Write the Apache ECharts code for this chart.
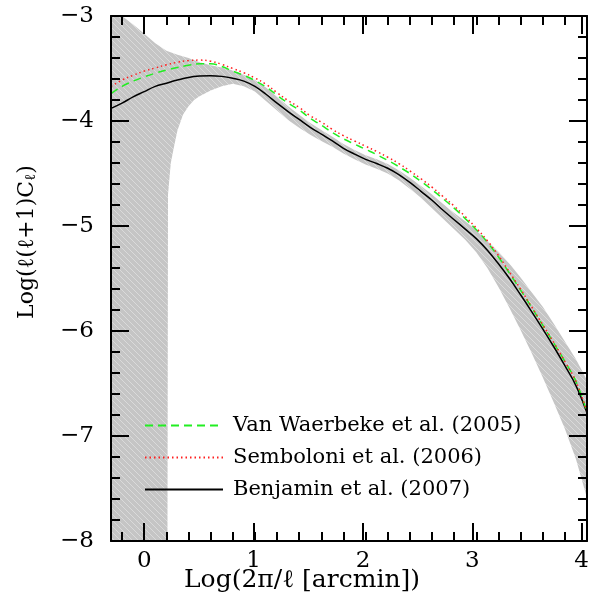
<!DOCTYPE html>
<html><head><meta charset="utf-8">
<script src="https://cdn.jsdelivr.net/npm/echarts@6/dist/echarts.min.js"></script>
<style>html,body{margin:0;padding:0;background:#fff}#c{width:592px;height:616px}</style>
</head><body><div id="c"></div>
<script>
// ---- data ----
const xVals = [-0.3,-0.2,-0.1,0.0,0.1,0.2,0.3,0.4,0.5,0.6,0.7,0.8,0.9,1.0,1.1,1.2,1.3,1.4,1.5,1.6,1.7,1.8,1.9,2.0,2.1,2.2,2.3,2.4,2.5,2.6,2.7,2.8,2.9,3.0,3.1,3.2,3.3,3.4,3.5,3.6,3.7,3.8,3.9,4.0];
const benjamin = [-3.88,-3.83,-3.77,-3.72,-3.67,-3.64,-3.61,-3.585,-3.572,-3.568,-3.575,-3.593,-3.62,-3.67,-3.745,-3.83,-3.91,-3.985,-4.06,-4.125,-4.19,-4.26,-4.315,-4.365,-4.405,-4.45,-4.51,-4.585,-4.67,-4.755,-4.85,-4.94,-5.03,-5.12,-5.23,-5.36,-5.50,-5.655,-5.815,-5.98,-6.15,-6.33,-6.52,-6.78];
const semboloni = [-3.67,-3.61,-3.565,-3.525,-3.495,-3.465,-3.44,-3.425,-3.42,-3.43,-3.46,-3.50,-3.54,-3.59,-3.65,-3.73,-3.805,-3.87,-3.95,-4.01,-4.08,-4.14,-4.19,-4.24,-4.29,-4.345,-4.405,-4.475,-4.55,-4.63,-4.72,-4.81,-4.91,-5.02,-5.14,-5.28,-5.44,-5.60,-5.77,-5.94,-6.11,-6.29,-6.48,-6.77];
const vanWaerbeke = [-3.74,-3.67,-3.62,-3.58,-3.545,-3.515,-3.49,-3.47,-3.455,-3.455,-3.48,-3.525,-3.565,-3.615,-3.675,-3.755,-3.83,-3.895,-3.975,-4.04,-4.11,-4.17,-4.22,-4.27,-4.32,-4.375,-4.435,-4.50,-4.575,-4.655,-4.74,-4.83,-4.93,-5.035,-5.155,-5.295,-5.45,-5.61,-5.775,-5.945,-6.115,-6.29,-6.48,-6.77];
const bandUpperX = xVals;
const bandUpper = [-3.0,-3.0,-3.08,-3.17,-3.26,-3.33,-3.37,-3.40,-3.44,-3.47,-3.49,-3.52,-3.56,-3.61,-3.68,-3.77,-3.86,-3.94,-4.02,-4.085,-4.15,-4.22,-4.275,-4.325,-4.365,-4.41,-4.47,-4.54,-4.62,-4.70,-4.79,-4.875,-4.955,-5.04,-5.14,-5.245,-5.36,-5.49,-5.63,-5.77,-5.93,-6.10,-6.27,-6.47];
const bandLowerX = [-0.3,0.21,0.215,0.24,0.27,0.3,0.35,0.4,0.45,0.5,0.6,0.7,0.8,0.9,1.0,1.1,1.2,1.3,1.4,1.5,1.6,1.7,1.8,1.9,2.0,2.1,2.2,2.3,2.4,2.5,2.6,2.7,2.8,2.9,3.0,3.1,3.2,3.3,3.4,3.5,3.6,3.7,3.8,3.9,4.0];
const bandLower = [-8,-8,-4.7,-4.4,-4.24,-4.09,-3.94,-3.86,-3.80,-3.765,-3.71,-3.67,-3.645,-3.67,-3.72,-3.81,-3.90,-3.99,-4.065,-4.13,-4.19,-4.245,-4.31,-4.365,-4.415,-4.455,-4.50,-4.565,-4.645,-4.73,-4.83,-4.93,-5.03,-5.13,-5.25,-5.40,-5.58,-5.78,-5.99,-6.21,-6.44,-6.68,-6.93,-7.22,-7.59];
const legendNames = ['Van Waerbeke et al. (2005)','Semboloni et al. (2006)','Benjamin et al. (2007)'];
const xTickLabels = ['0','1','2','3','4'];

// ---- chart ----
const pair = (xs, ys) => xs.map((x, i) => [x, ys[i]]);
const pc = document.createElement('canvas'); pc.width = 6; pc.height = 6;
const g = pc.getContext('2d');
g.fillStyle = '#c5c5c5'; g.fillRect(0, 0, 6, 6);
g.strokeStyle = '#dadada'; g.lineWidth = 1;
g.beginPath(); g.moveTo(-1, -1); g.lineTo(7, 7); g.moveTo(-4, 2); g.lineTo(4, 10); g.moveTo(2, -4); g.lineTo(10, 4); g.stroke();

const L = 111, R = 5, T = 16, B = 75, W = 592 - L - R, span = 4.3;
const FONT = 'DejaVu Serif';
const axisBlack = { color: '#000', width: 2 };
const mainX = (pos) => ({ type: 'value', gridIndex: 0, position: pos, min: -0.3, max: 4, z: 10,
  axisLine: { show: true, onZero: false, lineStyle: axisBlack }, axisTick: { show: false }, axisLabel: { show: false }, splitLine: { show: false } });
const majX = (pos, lab) => ({ type: 'value', gridIndex: 1, position: pos, min: 0, max: 4, interval: 1, z: 10,
  axisLine: { show: false, onZero: false }, axisTick: { show: true, inside: true, length: 18, lineStyle: axisBlack },
  axisLabel: { show: lab, margin: 9, color: '#000', fontFamily: FONT, fontSize: 23, formatter: v => xTickLabels[Math.round(v)] }, splitLine: { show: false } });
const minX = (pos) => ({ type: 'value', gridIndex: 2, position: pos, min: -0.2, max: 4, interval: 0.2, z: 10,
  axisLine: { show: false, onZero: false }, axisTick: { show: true, inside: true, length: 9, lineStyle: axisBlack },
  axisLabel: { show: false }, splitLine: { show: false } });
const mainY = (pos, lab) => ({ type: 'value', gridIndex: 0, position: pos, min: -8, max: -3, interval: 1, z: 10,
  axisLine: { show: true, onZero: false, lineStyle: axisBlack },
  axisTick: { show: true, inside: true, length: 18, lineStyle: axisBlack },
  minorTick: { show: true, splitNumber: 5, length: 9, lineStyle: axisBlack },
  axisLabel: { show: lab, margin: 17, color: '#000', fontFamily: FONT, fontSize: 23, formatter: v => (v < 0 ? '\u2212' : '') + Math.abs(v) },
  splitLine: { show: false }, minorSplitLine: { show: false } });
const hidY = (gi) => ({ type: 'value', gridIndex: gi, show: false, min: -8, max: -3 });

const chart = echarts.init(document.getElementById('c'), null, { renderer: 'canvas' });
chart.setOption({
  animation: false,
  backgroundColor: '#fff',
  grid: [
    { left: L, right: R, top: T, bottom: B },
    { left: L + 0.3 * W / span, right: R, top: T, bottom: B },
    { left: L + 0.1 * W / span, right: R, top: T, bottom: B }
  ],
  xAxis: [mainX('bottom'), mainX('top'), majX('bottom', true), majX('top', false), minX('bottom'), minX('top')],
  yAxis: [mainY('left', true), mainY('right', false), hidY(1), hidY(2)],
  legend: {
    data: legendNames, orient: 'vertical', left: 144, top: 415, padding: 0, itemWidth: 78, itemHeight: 14, itemGap: 11,
    selectedMode: false, itemStyle: { opacity: 0 },
    textStyle: { fontFamily: FONT, fontSize: 21, color: '#000', padding: [0, 0, 0, 5] }
  },
  graphic: [
    { type: 'text', x: 302, y: 580, style: { text: 'Log(2\u03c0/\u2113 [arcmin])', font: '25px "DejaVu Serif"', fill: '#000', align: 'center', verticalAlign: 'middle' } },
    { type: 'text', x: 27, y: 242, rotation: Math.PI / 2,
      style: { text: 'Log(\u2113(\u2113+1)C{s|\u2113})', font: '22px "DejaVu Serif"', fill: '#000', align: 'center', verticalAlign: 'middle',
        rich: { s: { fontFamily: FONT, fontSize: 15, verticalAlign: 'bottom', padding: [8, 0, 0, 0] } } } }
  ],
  series: [
    { type: 'custom', xAxisIndex: 0, yAxisIndex: 0, z: 1, silent: true, data: [[0, -5]],
      renderItem: (params, api) => {
        const pts = bandUpperX.map((x, i) => api.coord([x, bandUpper[i]]));
        for (let i = bandLowerX.length - 1; i >= 0; i--) pts.push(api.coord([bandLowerX[i], bandLower[i]]));
        return { type: 'polygon', shape: { points: pts }, style: { fill: { image: pc, repeat: 'repeat' }, stroke: null } };
      } },
    { name: legendNames[2], type: 'line', xAxisIndex: 0, yAxisIndex: 0, data: pair(xVals, benjamin), smooth: 0.4, symbol: 'none', z: 3,
      lineStyle: { color: '#000', width: 1.5 }, itemStyle: { color: '#000', opacity: 0 } },
    { name: legendNames[0], type: 'line', xAxisIndex: 0, yAxisIndex: 0, data: pair(xVals, vanWaerbeke), smooth: 0.4, symbol: 'none', z: 4,
      lineStyle: { color: '#22ee22', width: 1.5, type: [8, 5] }, itemStyle: { color: '#22ee22', opacity: 0 } },
    { name: legendNames[1], type: 'line', xAxisIndex: 0, yAxisIndex: 0, data: pair(xVals, semboloni), smooth: 0.4, symbol: 'none', z: 5,
      lineStyle: { color: '#ff2020', width: 1.5, type: [1.5, 3] }, itemStyle: { color: '#ff2020', opacity: 0 } }
  ]
});
</script></body></html>
